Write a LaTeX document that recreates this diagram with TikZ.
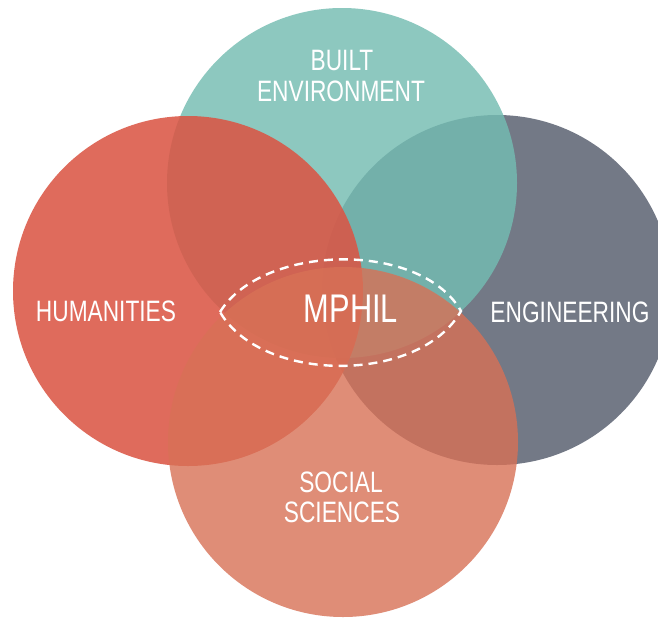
\documentclass[tikz,border=0pt]{standalone}
\usepackage{fontspec}
\setmainfont{Liberation Sans}
\newfontfamily\lblfont[FakeStretch=0.77]{Liberation Sans}
\definecolor{tealC}{RGB}{116,189,178}
\definecolor{redC}{RGB}{219,85,68}
\definecolor{grayC}{RGB}{115,121,134}
\definecolor{salmonC}{RGB}{216,113,86}
\tikzset{
  disc/.style={circle, minimum size=350pt, inner sep=0pt, draw=none},
  lbl/.style={text=white, font=\lblfont\fontsize{29.5}{29.5}\selectfont, inner sep=0pt, anchor=base},
  big/.style={text=white, font=\lblfont\fontsize{40}{40}\selectfont, inner sep=0pt, anchor=base},
  lensline/.style={draw=white, line width=2.4pt, dash pattern=on 9pt off 6pt}
}
\begin{document}
\begin{tikzpicture}[x=1pt,y=-1pt]
\useasboundingbox (0,0) rectangle (658,619);
\clip (0,0) rectangle (658,619);
\fill[white] (0,0) rectangle (658,619);
% circles (bottom to top: engineering, built environment, humanities, social sciences)
\node[disc, fill=grayC] (eng) at (497,290) {};
\node[disc, fill=tealC, fill opacity=0.82] (built) at (342,183) {};
\node[disc, fill=redC, fill opacity=0.87] (hum) at (188,291) {};
\node[disc, fill=salmonC, fill opacity=0.8] (soc) at (343,442) {};
% lens
\coordinate (lL) at (220,312);
\coordinate (lR) at (461,311);
\draw[lensline] (lL) .. controls (262,244) and (420,240) .. (lR)
                     .. controls (420,384) and (262,384) .. (lL) -- cycle;
% labels
\node[lbl] (t1) at (342,70) {BUILT};
\node[lbl] (t2) at (341,101) {ENVIRONMENT};
\node[lbl] (t3) at (106,321) {HUMANITIES};
\node[lbl] (t4) at (570,322) {ENGINEERING};
\node[big] (t5) at (351,322) {MPHIL};
\node[lbl] (t6) at (341,492) {SOCIAL};
\node[lbl] (t7) at (342,522) {SCIENCES};
\end{tikzpicture}
\end{document}
